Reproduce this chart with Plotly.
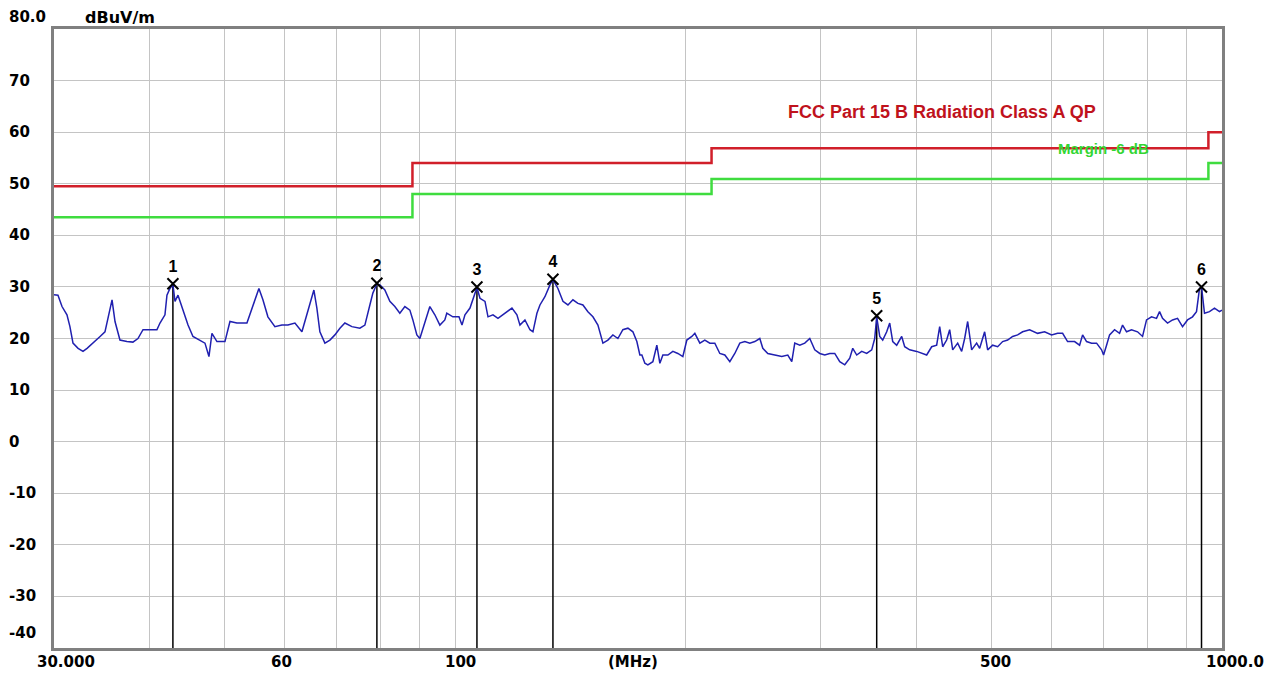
import math
import plotly.graph_objects as go

# ---- measured spectrum (MHz, dBuV/m) ----
freq_mhz = [
    30.00, 30.36, 30.73, 31.19, 31.47, 31.76, 32.25, 32.73, 33.13, 33.73,
    34.45, 34.96, 35.28, 35.71, 36.03, 36.57, 37.34, 38.02, 38.60, 39.19,
    40.02, 40.86, 41.24, 41.86, 42.11, 42.49, 42.87, 43.14, 43.53, 44.19,
    44.86, 45.53, 46.50, 47.20, 47.77, 48.20, 48.93, 50.12, 50.88, 51.95,
    53.54, 54.03, 54.83, 55.50, 56.17, 57.02, 58.23, 59.47, 60.55, 61.84,
    63.15, 64.10, 65.07, 65.46, 66.05, 66.65, 67.66, 68.69, 69.72, 70.78,
    71.84, 73.37, 75.15, 76.29, 77.44, 78.14, 79.09, 79.81, 81.00, 82.23,
    83.47, 84.73, 86.02, 87.32, 88.11, 89.17, 89.98, 91.33, 92.72, 94.12,
    95.55, 96.98, 97.56, 99.34, 101.19, 102.11, 103.03, 104.59, 105.53, 106.80,
    107.78, 109.41, 110.40, 112.07, 113.76, 116.17, 118.63, 120.42, 121.52, 123.36,
    125.23, 126.36, 127.87, 129.04, 130.98, 132.97, 134.17, 136.20, 138.26, 140.35,
    142.47, 144.62, 146.81, 149.02, 151.28, 153.57, 155.89, 158.24, 160.63, 163.06,
    165.52, 168.03, 170.57, 172.61, 174.18, 175.23, 176.81, 178.41, 181.11, 183.28,
    184.96, 186.63, 189.45, 192.32, 195.22, 198.17, 200.55, 203.59, 205.43, 208.55,
    211.68, 214.89, 218.13, 221.44, 224.78, 228.19, 231.62, 235.13, 238.68, 242.30,
    245.95, 249.67, 251.93, 255.74, 261.16, 266.71, 271.56, 274.83, 277.31, 281.51,
    285.75, 290.09, 294.46, 298.92, 303.43, 308.03, 312.67, 317.40, 322.19, 327.08,
    330.03, 333.99, 339.05, 344.16, 349.38, 352.53, 354.64, 357.88, 361.11, 365.45,
    368.78, 372.11, 376.58, 382.29, 385.74, 391.59, 399.87, 407.16, 412.05, 418.29,
    424.60, 428.47, 432.34, 437.52, 441.51, 445.50, 452.24, 457.69, 461.82, 466.01,
    471.63, 478.73, 483.10, 490.38, 494.83, 502.31, 509.90, 517.60, 525.43, 533.37,
    541.43, 549.62, 561.28, 574.91, 587.10, 599.56, 610.47, 619.70, 629.06, 642.39,
    652.13, 658.02, 665.92, 676.02, 686.20, 696.61, 700.79, 707.10, 713.54, 724.30,
    735.27, 741.92, 750.83, 762.21, 776.07, 787.80, 797.25, 809.34, 821.54, 829.03,
    836.52, 849.16, 862.00, 875.02, 888.25, 901.67, 915.30, 926.29, 934.74, 940.34,
    948.83, 963.21, 977.72, 992.54, 1000.0,
]
level_dbuv = [
    28.5, 28.4, 26.2, 24.6, 22.3, 19.1, 18.1, 17.5, 18.1, 19.1,
    20.4, 21.3, 24.2, 27.5, 23.3, 19.7, 19.4, 19.3, 20.0, 21.7,
    21.7, 21.7, 23.0, 24.6, 28.4, 29.7, 30.5, 27.2, 28.4, 25.5,
    22.6, 20.4, 19.7, 19.1, 16.5, 21.0, 19.4, 19.4, 23.3, 23.0,
    23.0, 24.6, 27.2, 29.7, 27.5, 24.2, 22.3, 22.6, 22.6, 23.0,
    21.3, 24.6, 27.8, 29.4, 25.9, 21.3, 19.1, 19.7, 20.7, 22.0,
    23.0, 22.3, 22.0, 22.6, 26.5, 28.8, 30.6, 30.4, 29.4, 27.2,
    26.2, 24.9, 26.2, 25.5, 23.6, 20.7, 20.0, 23.3, 26.2, 24.6,
    22.6, 23.6, 24.9, 24.2, 24.2, 22.6, 24.6, 25.9, 27.5, 29.9,
    27.8, 27.2, 24.2, 24.6, 23.9, 24.9, 25.9, 24.6, 22.6, 23.6,
    21.7, 21.3, 24.9, 26.5, 28.1, 30.4, 31.4, 29.7, 27.2, 26.5,
    27.5, 26.8, 26.5, 25.2, 24.2, 22.6, 19.1, 19.7, 20.7, 20.0,
    21.7, 22.0, 21.3, 19.4, 16.8, 16.8, 15.2, 14.9, 15.5, 18.7,
    15.2, 16.8, 16.8, 17.5, 17.1, 16.5, 19.7, 20.4, 21.0, 19.1,
    19.7, 19.1, 19.1, 17.1, 16.8, 15.5, 17.1, 19.1, 19.4, 19.1,
    19.4, 20.0, 18.1, 17.1, 16.8, 16.5, 16.8, 15.5, 19.1, 18.7,
    19.1, 20.0, 17.8, 17.1, 16.8, 17.1, 17.1, 15.5, 14.9, 16.2,
    18.1, 16.8, 17.5, 17.1, 17.8, 20.0, 24.2, 20.4, 19.7, 21.3,
    23.0, 19.4, 18.7, 20.4, 18.4, 17.8, 17.5, 17.1, 16.8, 18.4,
    18.7, 22.3, 18.4, 19.7, 21.7, 17.8, 19.1, 17.5, 20.0, 23.3,
    17.8, 19.1, 18.1, 21.3, 17.8, 18.7, 18.4, 19.4, 19.7, 20.4,
    20.7, 21.3, 21.7, 21.0, 21.3, 20.7, 21.0, 21.0, 19.4, 19.4,
    18.7, 20.7, 19.4, 19.1, 19.1, 17.8, 16.8, 18.7, 20.7, 21.7,
    21.0, 22.6, 21.3, 21.7, 21.3, 20.4, 23.6, 24.2, 23.9, 25.2,
    23.9, 23.0, 23.6, 23.9, 22.3, 23.6, 24.2, 25.2, 29.7, 30.0,
    24.9, 25.2, 25.9, 25.2, 25.5,
]

# ---- limit lines (step edges) ----
limit_freq = [30, 88, 216, 960, 1000]
limit_level = [49.5, 54.0, 56.9, 60.0, 60.0]
margin_level = [43.5, 48.0, 50.9, 54.0, 54.0]

# ---- markers ----
marker_freq = [42.87, 79.09, 106.80, 134.17, 354.64, 940.34]
marker_level = [30.6, 30.7, 30.0, 31.5, 24.4, 30.0]
marker_label = ["1", "2", "3", "4", "5", "6"]

# ---- axes ----
y_min, y_max = -40, 80
y_tick_vals = [80, 70, 60, 50, 40, 30, 20, 10, 0, -10, -20, -30, -40]
y_tick_text = ["80.0", "70", "60", "50", "40", "30", "20", "10", "0", "-10", "-20", "-30", "-40"]
x_grid_vals = [40, 50, 60, 70, 80, 90, 100, 200, 300, 400, 500, 600, 700, 800, 900]
x_label_vals = [30, 60, 100, 500, 1000]
x_label_text = ["30.000", "60", "100", "500", "1000.0"]

FONT = "DejaVu Sans"
NARROW = "Liberation Sans Narrow, Liberation Sans, Arial"

fig = go.Figure()

fig.add_trace(go.Scatter(x=limit_freq, y=limit_level, mode="lines", line_shape="hv",
                         line=dict(color="#d11f2a", width=2.5), hoverinfo="skip"))
fig.add_trace(go.Scatter(x=limit_freq, y=margin_level, mode="lines", line_shape="hv",
                         line=dict(color="#3fdc3f", width=2.5), hoverinfo="skip"))

# vertical marker lines
vx, vy = [], []
for f, l in zip(marker_freq, marker_level):
    vx += [f, f, None]
    vy += [l, y_min, None]
fig.add_trace(go.Scatter(x=vx, y=vy, mode="lines", line=dict(color="black", width=1.5),
                         hoverinfo="skip"))

fig.add_trace(go.Scatter(x=freq_mhz, y=level_dbuv, mode="lines",
                         line=dict(color="#2020b0", width=1.5)))

fig.add_trace(go.Scatter(x=marker_freq, y=marker_level, mode="markers+text",
                         text=marker_label, textposition="top center",
                         textfont=dict(family=NARROW, size=16, color="black", weight="bold"),
                         marker=dict(symbol="x-thin-open", size=11, color="black",
                                     line=dict(color="black", width=2))))

LBL = dict(family=FONT, size=15, color="black", weight="bold")
annotations = []
for v, t in zip(y_tick_vals, y_tick_text):
    shift = 0
    if v == y_max:
        shift = 12
    elif v == y_min:
        shift = 15
    annotations.append(dict(x=-0.0402, xref="paper", y=v, yref="y", text=t, showarrow=False,
                            xanchor="left", yanchor="middle", yshift=shift, font=LBL))
annotations.append(dict(x=0.0248, xref="paper", y=1.019, yref="paper", text="dBuV/m",
                        showarrow=False, xanchor="left", yanchor="middle",
                        font=dict(family=FONT, size=16, color="black", weight="bold")))
x_shifts = [12, -3, 5, 4, 13]
for v, t, s in zip(x_label_vals, x_label_text, x_shifts):
    annotations.append(dict(x=math.log10(v), xref="x", y=0, yref="paper", text=t,
                            showarrow=False, xanchor="center", yanchor="middle",
                            yshift=-14, xshift=s, font=LBL))
annotations.append(dict(x=0.4957, xref="paper", y=0, yref="paper", text="(MHz)",
                        showarrow=False, xanchor="center", yanchor="middle", yshift=-14,
                        font=LBL))
annotations.append(dict(x=math.log10(431), xref="x", y=64.0, yref="y",
                        text="FCC Part 15 B Radiation Class A QP", showarrow=False,
                        xanchor="center", yanchor="middle",
                        font=dict(family=NARROW, size=18, color="#c0121c", weight="bold")))
annotations.append(dict(x=math.log10(700), xref="x", y=56.8, yref="y",
                        text="Margin -6 dB", showarrow=False,
                        xanchor="center", yanchor="middle",
                        font=dict(family=NARROW, size=15, color="#33d633", weight="bold")))

fig.update_layout(
    width=1269, height=667,
    margin=dict(l=46, r=55, t=21, b=27),
    paper_bgcolor="white", plot_bgcolor="white",
    showlegend=False,
    annotations=annotations,
    xaxis=dict(type="log", range=[math.log10(30), 3], tickvals=x_grid_vals,
               showticklabels=False, showgrid=True, gridcolor="#c4c4c4", gridwidth=1,
               showline=True, linecolor="#808080", linewidth=2.5, mirror=True,
               zeroline=False, ticks=""),
    yaxis=dict(range=[y_min, y_max], tickvals=y_tick_vals, showticklabels=False,
               showgrid=True, gridcolor="#c4c4c4", gridwidth=1,
               showline=True, linecolor="#808080", linewidth=2.5, mirror=True,
               zeroline=False, ticks=""),
)

fig.write_html("out.html")
